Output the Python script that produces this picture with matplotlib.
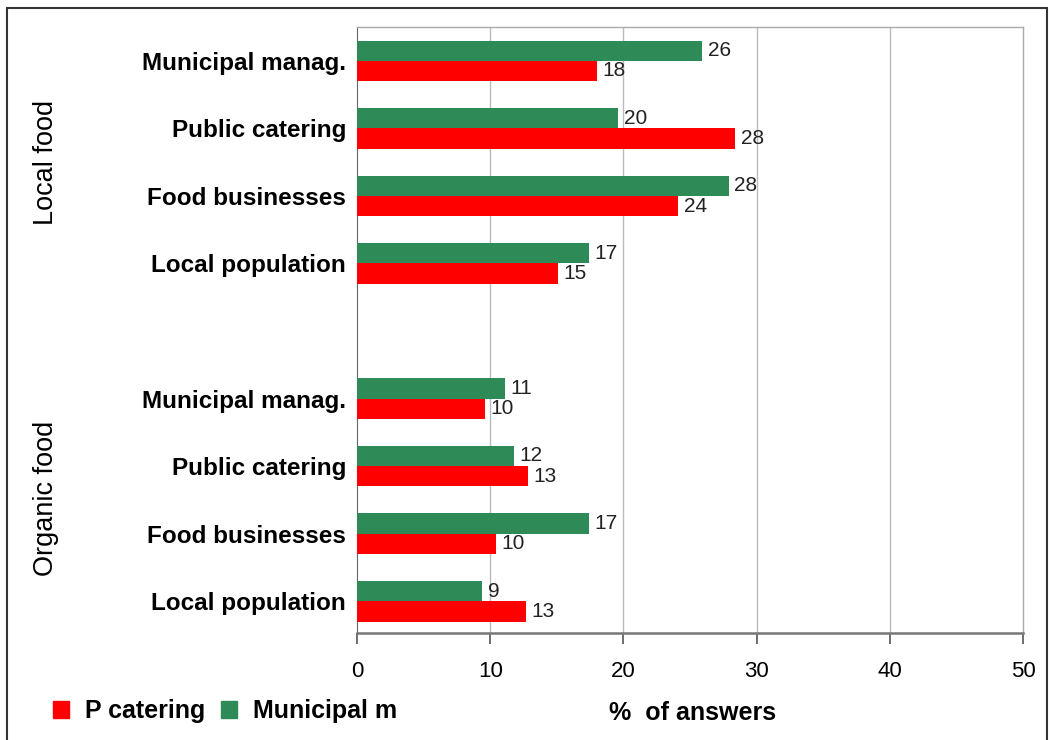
import matplotlib.pyplot as plt
from matplotlib.patches import Patch, Rectangle

plt.rcParams['font.family'] = ['Liberation Sans', 'DejaVu Sans']

# categories, top to bottom inside each block
categorias = ["Municipal manag.", "Public catering", "Food businesses", "Local population"]
blocos = ["Local food", "Organic food"]

# % of answers (rounded values are printed next to the bars)
municipal_local = [25.9, 19.6, 27.9, 17.4]
catering_local = [18.0, 28.4, 24.1, 15.1]
municipal_organic = [11.1, 11.8, 17.4, 9.4]
catering_organic = [9.6, 12.8, 10.4, 12.7]

xticks = [0, 10, 20, 30, 40, 50]

verde = '#2e8b57'
vermelho = '#ff0000'

fig = plt.figure(figsize=(10.51, 7.40), dpi=100)
ax = fig.add_axes([0.3397, 0.1446, 0.6337, 0.8189])

posicoes = [0, 1, 2, 3, 5, 6, 7, 8]
municipal = municipal_local + municipal_organic
catering = catering_local + catering_organic
altura = 0.3

ax.barh([p - altura / 2 for p in posicoes], municipal, height=altura, color=verde, zorder=3)
ax.barh([p + altura / 2 for p in posicoes], catering, height=altura, color=vermelho, zorder=3)

for p, m, c in zip(posicoes, municipal, catering):
    ax.annotate(f"{m:.0f}", (m, p - altura / 2), xytext=(4, 0), textcoords='offset points',
                va='center', ha='left', fontsize=15, color='#222222')
    ax.annotate(f"{c:.0f}", (c, p + altura / 2), xytext=(4, 0), textcoords='offset points',
                va='center', ha='left', fontsize=15, color='#222222')

ax.set_xlim(0, 50)
ax.set_ylim(8.47, -0.5)
ax.set_xticks(xticks)
ax.set_xticklabels([str(t) for t in xticks], fontsize=16)
ax.set_yticks(posicoes)
ax.set_yticklabels(categorias + categorias, fontsize=17.5, fontweight='bold')
ax.tick_params(axis='y', length=0, pad=8)
ax.tick_params(axis='x', direction='out', length=8, width=1.2, color='#555555', pad=12)

for x in xticks[1:-1]:
    ax.axvline(x, color='#bbbbbb', lw=1, zorder=1)

for lado in ['top', 'right']:
    ax.spines[lado].set_color('#aaaaaa')
    ax.spines[lado].set_linewidth(1)
ax.spines['left'].set_color('#666666')
ax.spines['bottom'].set_color('#777777')
ax.spines['bottom'].set_linewidth(1.8)

# block labels on the left
fig.text(0.044, 0.781, blocos[0], rotation=90, ha='center', va='center', fontsize=19.5)
fig.text(0.044, 0.327, blocos[1], rotation=90, ha='center', va='center', fontsize=19.5)

fig.text(0.659, 0.036, "%  of answers", ha='center', va='center', fontsize=18, fontweight='bold')

legenda = [Patch(color=vermelho, label='P catering'), Patch(color=verde, label='Municipal m')]
fig.legend(handles=legenda, loc='center left', bbox_to_anchor=(0.0504, 0.039), ncol=2, frameon=False,
           borderpad=0, borderaxespad=0, handlelength=0.64, handleheight=0.64,
           handletextpad=0.64, columnspacing=0.64,
           prop={'size': 18, 'weight': 'bold'})

# outer frame
fig.patches.append(Rectangle((0.007, -0.05), 0.989, 1.039, transform=fig.transFigure,
                             fill=False, edgecolor='#333333', lw=1.5))

fig.savefig('out.png', dpi=100)
